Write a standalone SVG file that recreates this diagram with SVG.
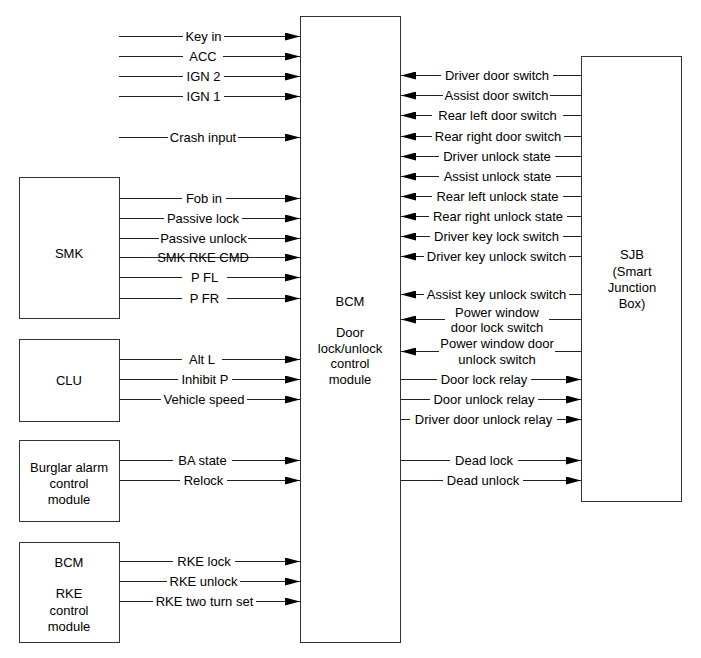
<svg xmlns="http://www.w3.org/2000/svg" width="701" height="658" viewBox="0 0 701 658">
<defs>
<marker id="arr" markerUnits="userSpaceOnUse" markerWidth="15" markerHeight="8" refX="15" refY="4" orient="auto">
<path d="M0,0 L15,4 L0,8 z" fill="#000"/>
</marker>
<style>
.box{fill:#fff;stroke:#333;stroke-width:1}
.c{fill:none;stroke:#222;stroke-width:1;marker-end:url(#arr)}
text{font-family:"Liberation Sans",Arial,sans-serif;font-size:13px;fill:#000;text-anchor:middle}
</style>
</defs>
<rect width="701" height="658" fill="#fff"/>
<g id="bcm-main"><rect class="box" x="300.5" y="16.5" width="100" height="626"/>
<text x="350" y="305.5">BCM</text><text x="350" y="336.5">Door</text><text x="350" y="352.5">lock/unlock</text><text x="350" y="367.5">control</text><text x="350" y="383.5">module</text></g>
<g id="sjb"><rect class="box" x="581.5" y="56.5" width="100" height="445"/>
<text x="632" y="258.5">SJB</text><text x="632" y="275.5">(Smart</text><text x="632" y="291.5">Junction</text><text x="632" y="307.5">Box)</text></g>
<g id="smk"><rect class="box" x="19.5" y="177.5" width="100" height="141"/><text x="69" y="257.5">SMK</text></g>
<g id="clu"><rect class="box" x="19.5" y="339.5" width="100" height="82"/><text x="69" y="384.5">CLU</text></g>
<g id="burglar"><rect class="box" x="19.5" y="440.5" width="100" height="81"/>
<text x="69" y="471.5">Burglar alarm</text><text x="69" y="487.5">control</text><text x="69" y="503.5">module</text></g>
<g id="bcm-rke"><rect class="box" x="19.5" y="542.5" width="100" height="100"/>
<text x="69" y="566.5">BCM</text><text x="69" y="597.5">RKE</text><text x="69" y="614.5">control</text><text x="69" y="630.5">module</text></g>
<g id="connectors">
<path class="c" d="M119,36.5H183M224,36.5H300"/>
<path class="c" d="M119,56.5H183M223,56.5H300"/>
<path class="c" d="M119,76.5H183M224,76.5H300"/>
<path class="c" d="M119,96.5H183M224,96.5H300"/>
<path class="c" d="M119,137.5H168M238,137.5H300"/>
<path class="c" d="M119,198.5H182M226,198.5H300"/>
<path class="c" d="M119,218.5H164M242,218.5H300"/>
<path class="c" d="M119,238.5H159M248,238.5H300"/>
<path class="c" d="M119,257.5H300"/>
<path class="c" d="M119,277.5H182M227,277.5H300"/>
<path class="c" d="M119,298.5H182M227,298.5H300"/>
<path class="c" d="M119,359.5H182M222,359.5H300"/>
<path class="c" d="M119,379.5H178M232,379.5H300"/>
<path class="c" d="M119,399.5H161M247,399.5H300"/>
<path class="c" d="M119,460.5H173M232,460.5H300"/>
<path class="c" d="M119,480.5H180M227,480.5H300"/>
<path class="c" d="M119,561.5H173M235,561.5H300"/>
<path class="c" d="M119,581.5H167M240,581.5H300"/>
<path class="c" d="M119,601.5H153M256,601.5H300"/>
<path class="c" d="M581,75.5H553M441,75.5H401"/>
<path class="c" d="M581,95.5H550M443,95.5H401"/>
<path class="c" d="M581,115.5H563M432,115.5H401"/>
<path class="c" d="M581,136.5H564M432,136.5H401"/>
<path class="c" d="M581,156.5H555M439,156.5H401"/>
<path class="c" d="M581,176.5H556M439,176.5H401"/>
<path class="c" d="M581,196.5H563M432,196.5H401"/>
<path class="c" d="M581,216.5H567M429,216.5H401"/>
<path class="c" d="M581,236.5H563M430,236.5H401"/>
<path class="c" d="M581,256.5H569M424,256.5H401"/>
<path class="c" d="M581,294.5H569M424,294.5H401"/>
<path class="c" d="M581,319.5H549M445,319.5H401"/>
<path class="c" d="M581,351.5H555M439,351.5H401"/>
<path class="c" d="M401,379.5H437M531,379.5H581"/>
<path class="c" d="M401,399.5H430M538,399.5H581"/>
<path class="c" d="M401,419.5H410M557,419.5H581"/>
<path class="c" d="M401,460.5H450M518,460.5H581"/>
<path class="c" d="M401,480.5H443M523,480.5H581"/>
</g>
<g id="labels">
<text x="203.5" y="41">Key in</text>
<text x="203" y="61">ACC</text>
<text x="203.5" y="81">IGN 2</text>
<text x="203.5" y="101">IGN 1</text>
<text x="203" y="142">Crash input</text>
<text x="204" y="203">Fob in</text>
<text x="203" y="223">Passive lock</text>
<text x="203.5" y="243">Passive unlock</text>
<text x="203" y="262">SMK RKE CMD</text>
<text x="204.5" y="282">P FL</text>
<text x="204.5" y="303">P FR</text>
<text x="202" y="364">Alt L</text>
<text x="205" y="384">Inhibit P</text>
<text x="204" y="404">Vehicle speed</text>
<text x="202.5" y="465">BA state</text>
<text x="203.5" y="485">Relock</text>
<text x="204" y="566">RKE lock</text>
<text x="203.5" y="586">RKE unlock</text>
<text x="204.5" y="606">RKE two turn set</text>
<text x="497" y="80">Driver door switch</text>
<text x="496.5" y="100">Assist door switch</text>
<text x="497.5" y="120">Rear left door switch</text>
<text x="498" y="141">Rear right door switch</text>
<text x="497" y="161">Driver unlock state</text>
<text x="497.5" y="181">Assist unlock state</text>
<text x="497.5" y="201">Rear left unlock state</text>
<text x="498" y="221">Rear right unlock state</text>
<text x="496.5" y="241">Driver key lock switch</text>
<text x="496.5" y="261">Driver key unlock switch</text>
<text x="496.5" y="299">Assist key unlock switch</text>
<text x="497" y="316.5">Power window</text>
<text x="497" y="331.5">door lock switch</text>
<text x="497" y="347.5">Power window door</text>
<text x="497" y="363.5">unlock switch</text>
<text x="484" y="384">Door lock relay</text>
<text x="484" y="404">Door unlock relay</text>
<text x="483.5" y="424">Driver door unlock relay</text>
<text x="484" y="465">Dead lock</text>
<text x="483" y="485">Dead unlock</text>
</g>
</svg>
